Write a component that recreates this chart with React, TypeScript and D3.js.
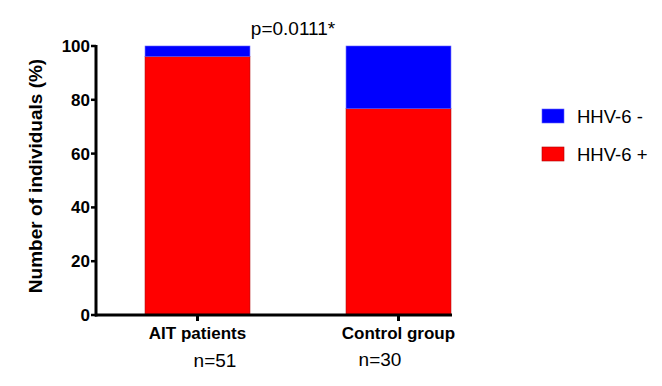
import React from 'react';
import * as d3 from 'd3';

// groups and stacked percentages
const categories = ['AIT patients', 'Control group'];
const positive = [96.1, 76.7]; // HHV-6 +
const negative = [3.9, 23.3]; // HHV-6 -
const sampleSizes = ['n=51', 'n=30'];
const yTicks = [0, 20, 40, 60, 80, 100];
const seriesNames = ['HHV-6 -', 'HHV-6 +'];
const seriesColors = ['#0000ff', '#ff0000'];

const FONT = 'Liberation Sans, Arial, sans-serif';

export default function App() {
  const width = 662;
  const height = 386;

  // x: two bands, placed like the original plot
  const x = d3
    .scaleBand<string>()
    .domain(categories)
    .range([96, 500])
    .paddingInner(0.478)
    .paddingOuter(0.244);

  const y = d3.scaleLinear().domain([0, 100]).range([315, 46]);

  // stack the two series: positive at the bottom, negative on top
  const rows = categories.map((c, i) => ({ cat: c, pos: positive[i], neg: negative[i] }));
  const stack = d3.stack<any>().keys(['pos', 'neg'])(rows);

  return (
    <svg
      width={width}
      height={height}
      style={{ position: 'absolute', left: 0, top: 0, background: '#fff' }}
      fontFamily={FONT}
    >
      {/* bars */}
      {stack.map((layer, li) => (
        <g key={layer.key}>
          {layer.map((d, i) => (
            <rect
              key={i}
              x={x(categories[i])}
              y={y(d[1])}
              width={x.bandwidth()}
              height={y(d[0]) - y(d[1])}
              fill={li === 0 ? seriesColors[1] : seriesColors[0]}
              stroke={li === 0 ? '#b00000' : '#6060ff'}
              strokeWidth={0.6}
            />
          ))}
        </g>
      ))}

      {/* y axis */}
      <line x1={96} x2={96} y1={y(100) - 1} y2={y(0) + 1.5} stroke="#000" strokeWidth={3} />
      {yTicks.map((t) => (
        <g key={t}>
          <line x1={91} x2={96} y1={y(t)} y2={y(t)} stroke="#000" strokeWidth={2.5} />
          <text
            x={90}
            y={y(t) + 6}
            textAnchor="end"
            fontSize={17}
            fontWeight="bold"
          >
            {t}
          </text>
        </g>
      ))}

      {/* x axis */}
      <line x1={95} x2={452} y1={y(0)} y2={y(0)} stroke="#000" strokeWidth={3} />
      {categories.map((c, i) => {
        const cx = (x(c) ?? 0) + x.bandwidth() / 2;
        return (
          <g key={c}>
            <line x1={cx} x2={cx} y1={y(0)} y2={y(0) + 6} stroke="#000" strokeWidth={3} />
            <text x={cx} y={339} textAnchor="middle" fontSize={17} fontWeight="bold">
              {c}
            </text>
          </g>
        );
      })}

      {/* sample sizes */}
      <text x={215} y={367} textAnchor="middle" fontSize={19}>
        {sampleSizes[0]}
      </text>
      <text x={380} y={366} textAnchor="middle" fontSize={19}>
        {sampleSizes[1]}
      </text>

      {/* p value */}
      <text x={293} y={35} textAnchor="middle" fontSize={19}>
        p=0.0111*
      </text>

      {/* y axis title */}
      <text
        transform="translate(42, 176) rotate(-90)"
        textAnchor="middle"
        fontSize={19}
        fontWeight="bold"
      >
        Number of individuals (%)
      </text>

      {/* legend */}
      {seriesNames.map((s, i) => (
        <g key={s} transform={`translate(542, ${109 + i * 38})`}>
          <rect width={22} height={14} fill={seriesColors[i]} stroke={i === 0 ? '#6060ff' : '#b00000'} strokeWidth={0.6} />
          <text x={35} y={14} fontSize={18.5}>
            {s}
          </text>
        </g>
      ))}
    </svg>
  );
}
